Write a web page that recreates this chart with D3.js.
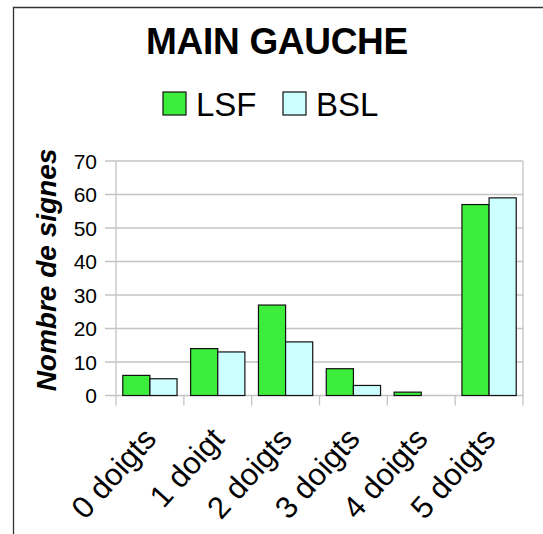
<!DOCTYPE html>
<html><head><meta charset="utf-8">
<script src="https://cdn.jsdelivr.net/npm/d3@7"></script>
<style>body{margin:0;background:#fff}svg{display:block}text{font-family:"Liberation Sans",Arial,sans-serif}</style>
</head><body>
<svg id="c" width="543" height="534"></svg>
<script>
const categories = ["0 doigts","1 doigt","2 doigts","3 doigts","4 doigts","5 doigts"];
const seriesNames = ["LSF","BSL"];
const lsf = [6,14,27,8,1,57];
const bsl = [5,13,16,3,0,59];
const yTicks = [0,10,20,30,40,50,60,70];
const colors = ["#3ded3c","#ccffff"];

(function(){
const svg = d3.select("#c");
const pL=116, pR=523, pT=161, pB=395.5;
const x = d3.scaleBand().domain(categories).range([pL,pR]).paddingInner(0).paddingOuter(0);
const x1 = d3.scaleBand().domain(seriesNames).range([0,x.bandwidth()]).paddingInner(0).paddingOuter(0.25);
const y = d3.scaleLinear().domain([0,70]).range([pB,pT]);

svg.append("path").attr("d",`M13.5,534 V7.5 H543`).attr("fill","none").attr("stroke","#333").attr("stroke-width",1.3);

const gridColor="#c4c4c4";
svg.append("g").selectAll("line").data(yTicks).join("line")
  .attr("x1",pL-11).attr("x2",pR).attr("y1",d=>y(d)).attr("y2",d=>y(d))
  .attr("stroke",gridColor).attr("stroke-width",1.3);
svg.append("line").attr("x1",pL).attr("x2",pL).attr("y1",pT).attr("y2",pB+10).attr("stroke",gridColor).attr("stroke-width",1.3);
svg.append("line").attr("x1",pR).attr("x2",pR).attr("y1",pT).attr("y2",pB+10).attr("stroke",gridColor).attr("stroke-width",1.3);
svg.append("g").selectAll("line").data(categories.slice(1)).join("line")
  .attr("x1",d=>x(d)).attr("x2",d=>x(d)).attr("y1",pB).attr("y2",pB+10)
  .attr("stroke",gridColor).attr("stroke-width",1.3);

svg.append("g").selectAll("text").data(yTicks).join("text")
  .attr("x",97).attr("y",d=>y(d)).attr("dy","0.36em").attr("text-anchor","end")
  .attr("font-size",21).attr("fill","#000").text(d=>d);

const data = categories.map((c,i)=>({c, vals:[lsf[i],bsl[i]]}));
const g = svg.append("g").selectAll("g").data(data).join("g").attr("transform",d=>`translate(${x(d.c)},0)`);
g.selectAll("rect").data(d=>d.vals.map((v,j)=>({v,s:seriesNames[j],j})).filter(d=>d.v>0)).join("rect")
  .attr("x",d=>x1(d.s)).attr("width",x1.bandwidth())
  .attr("y",d=>y(d.v)).attr("height",d=>pB-y(d.v))
  .attr("fill",d=>colors[d.j]).attr("stroke","#111").attr("stroke-width",1.2);

svg.append("g").selectAll("text").data(categories).join("text")
  .attr("transform",d=>`translate(${x(d)+x.bandwidth()/2+8},440) rotate(-48)`)
  .attr("text-anchor","end").attr("font-size",31).attr("fill","#000").text(d=>d);

svg.append("text").attr("transform","translate(56,270) rotate(-90)")
  .attr("text-anchor","middle").attr("font-size",28).attr("font-weight","bold").attr("font-style","italic")
  .text("Nombre de signes");

svg.append("text").attr("x",277).attr("y",54).attr("text-anchor","middle")
  .attr("font-size",37).attr("font-weight","bold").attr("letter-spacing",-0.3).text("MAIN GAUCHE");

const lx=[163,283];
const leg = svg.append("g").selectAll("g").data(seriesNames).join("g").attr("transform",(d,i)=>`translate(${lx[i]},92)`);
leg.append("rect").attr("width",23).attr("height",23).attr("fill",(d,i)=>colors[i]).attr("stroke","#111").attr("stroke-width",1.2);
leg.append("text").attr("x",33).attr("y",23.5).attr("font-size",33).text(d=>d);
})();
</script>
</body></html>
